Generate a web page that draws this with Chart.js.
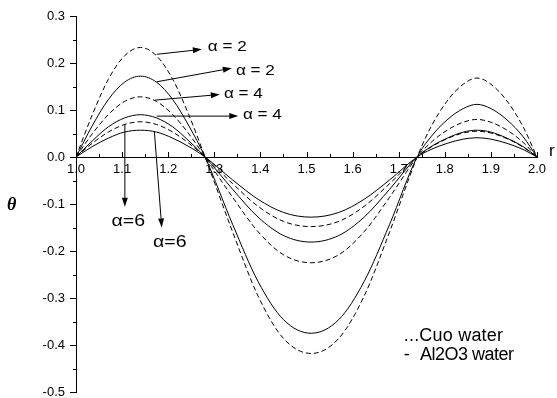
<!DOCTYPE html>
<html>
<head>
<meta charset="utf-8">
<script src="https://cdn.jsdelivr.net/npm/chart.js@4.4.0/dist/chart.umd.min.js"></script>
<style>
  html, body { margin: 0; padding: 0; background: #fff; }
</style>
</head>
<body>
<canvas id="theta-chart" width="557" height="398"></canvas>
<script>
// radial position r (three lobes: 1.0-1.28, 1.28-1.74, 1.74-2.0)
const rValues = [1.00, 1.035, 1.07, 1.105, 1.14, 1.175, 1.21, 1.245, 1.28,
  1.34, 1.395, 1.45, 1.51, 1.57, 1.625, 1.68, 1.74,
  1.77, 1.805, 1.84, 1.87, 1.90, 1.935, 1.97, 2.00];

// CuO-water (dashed)
const cuoAlpha2 = [0, 0.089, 0.165, 0.215, 0.233, 0.215, 0.165, 0.089, 0,
  -0.160, -0.296, -0.386, -0.418, -0.386, -0.296, -0.160, 0,
  0.064, 0.119, 0.155, 0.168, 0.155, 0.119, 0.064, 0];
const cuoAlpha4 = [0, 0.049, 0.090, 0.118, 0.128, 0.118, 0.090, 0.049, 0,
  -0.086, -0.159, -0.208, -0.225, -0.208, -0.159, -0.086, 0,
  0.031, 0.057, 0.074, 0.080, 0.074, 0.057, 0.031, 0];
const cuoAlpha6 = [0, 0.029, 0.053, 0.069, 0.075, 0.069, 0.053, 0.029, 0,
  -0.057, -0.105, -0.137, -0.148, -0.137, -0.105, -0.057, 0,
  0.021, 0.039, 0.051, 0.055, 0.051, 0.039, 0.021, 0];

// Al2O3-water (solid)
const alAlpha2 = [0, 0.066, 0.122, 0.159, 0.172, 0.159, 0.122, 0.066, 0,
  -0.144, -0.265, -0.346, -0.375, -0.346, -0.265, -0.144, 0,
  0.043, 0.079, 0.103, 0.112, 0.103, 0.079, 0.043, 0];
const alAlpha4 = [0, 0.034, 0.064, 0.083, 0.090, 0.083, 0.064, 0.034, 0,
  -0.069, -0.128, -0.167, -0.181, -0.167, -0.128, -0.069, 0,
  0.022, 0.040, 0.053, 0.057, 0.053, 0.040, 0.022, 0];
const alAlpha6 = [0, 0.022, 0.040, 0.053, 0.057, 0.053, 0.040, 0.022, 0,
  -0.049, -0.090, -0.118, -0.128, -0.118, -0.090, -0.049, 0,
  0.016, 0.029, 0.038, 0.041, 0.038, 0.029, 0.016, 0];

const xTicks = [1.0, 1.1, 1.2, 1.3, 1.4, 1.5, 1.6, 1.7, 1.8, 1.9, 2.0];
const yTicks = [-0.5, -0.4, -0.3, -0.2, -0.1, 0.0, 0.1, 0.2, 0.3];

const seriesList = [
  { label: 'CuO α=2', values: cuoAlpha2, dashed: true },
  { label: 'Al2O3 α=2', values: alAlpha2, dashed: false },
  { label: 'CuO α=4', values: cuoAlpha4, dashed: true },
  { label: 'Al2O3 α=4', values: alAlpha4, dashed: false },
  { label: 'CuO α=6', values: cuoAlpha6, dashed: true },
  { label: 'Al2O3 α=6', values: alAlpha6, dashed: false }
];

// arrows pointing from a curve to its label (data coordinates)
const arrowNotes = [
  { from: [1.175, 0.2185], to: [1.273, 0.229], text: 'α = 2', at: [1.286, 0.234], size: 14 },
  { from: [1.175, 0.160], to: [1.338, 0.189], text: 'α = 2', at: [1.347, 0.183], size: 14 },
  { from: [1.171, 0.121], to: [1.312, 0.133], text: 'α = 4', at: [1.321, 0.134], size: 14 },
  { from: [1.175, 0.087], to: [1.352, 0.087], text: 'α = 4', at: [1.362, 0.089], size: 14 },
  { from: [1.106, 0.070], to: [1.106, -0.106], text: 'α=6', at: [1.077, -0.138], size: 16 },
  { from: [1.170, 0.054], to: [1.186, -0.150], text: 'α=6', at: [1.167, -0.182], size: 16 }
];

const FONT = '"Liberation Sans", Arial, sans-serif';

function drawText(ctx, text, x, y, size, stretch, spacing) {
  ctx.save();
  ctx.font = size + 'px ' + FONT;
  ctx.letterSpacing = (spacing || 0) + 'px';
  ctx.textBaseline = 'middle';
  ctx.textAlign = 'left';
  ctx.fillStyle = '#000';
  ctx.translate(x, y);
  ctx.scale(stretch, 1);
  ctx.fillText(text, 0, 0);
  ctx.restore();
}

function drawArrow(ctx, x1, y1, x2, y2) {
  const ang = Math.atan2(y2 - y1, x2 - x1);
  const len = 9, half = 3;
  ctx.beginPath();
  ctx.moveTo(x1, y1);
  ctx.lineTo(x2 - Math.cos(ang) * len, y2 - Math.sin(ang) * len);
  ctx.stroke();
  ctx.beginPath();
  ctx.moveTo(x2, y2);
  ctx.lineTo(x2 - Math.cos(ang) * len - Math.sin(ang) * half, y2 - Math.sin(ang) * len + Math.cos(ang) * half);
  ctx.lineTo(x2 - Math.cos(ang) * len + Math.sin(ang) * half, y2 - Math.sin(ang) * len - Math.cos(ang) * half);
  ctx.closePath();
  ctx.fill();
}

// minor + major tick marks: y ticks point left, x ticks point up
const axisTicks = {
  id: 'axisTicks',
  afterDraw(chart) {
    const { ctx, scales: { x, y } } = chart;
    const x0 = x.getPixelForValue(1.0);
    const y0 = y.getPixelForValue(0);
    ctx.save();
    ctx.strokeStyle = '#000';
    ctx.lineWidth = 1;
    ctx.beginPath();
    for (let i = 0; i <= 16; i++) {
      const py = Math.round(y.getPixelForValue(-0.5 + i * 0.05)) + 0.5;
      const len = i % 2 === 0 ? 6 : 3;
      ctx.moveTo(x0 - len, py);
      ctx.lineTo(x0, py);
    }
    for (let i = 1; i <= 20; i++) {
      const px = Math.round(x.getPixelForValue(1 + i * 0.05)) + 0.5;
      const len = i % 2 === 0 ? 5 : 3;
      ctx.moveTo(px, y0);
      ctx.lineTo(px, y0 - len);
    }
    ctx.stroke();
    ctx.restore();
  }
};

const annotations = {
  id: 'annotations',
  afterDraw(chart) {
    const { ctx, chartArea, scales: { x, y } } = chart;
    ctx.save();
    ctx.strokeStyle = '#000';
    ctx.fillStyle = '#000';
    ctx.lineWidth = 1;
    arrowNotes.forEach(n => {
      drawArrow(ctx, x.getPixelForValue(n.from[0]), y.getPixelForValue(n.from[1]),
        x.getPixelForValue(n.to[0]), y.getPixelForValue(n.to[1]));
      drawText(ctx, n.text, x.getPixelForValue(n.at[0]), y.getPixelForValue(n.at[1]), n.size, 1.22, 0);
    });

    // key for the two fluids
    drawText(ctx, '...Cuo water', x.getPixelForValue(1.711), y.getPixelForValue(-0.381), 18, 1, 0.2);
    drawText(ctx, '-', x.getPixelForValue(1.711), y.getPixelForValue(-0.421), 18, 1, 0);
    drawText(ctx, 'Al2O3 water', x.getPixelForValue(1.746), y.getPixelForValue(-0.421), 18, 1, -0.5);

    // axis titles
    drawText(ctx, 'r', chartArea.right + 12, y.getPixelForValue(0) - 6, 17, 1, 0);
    ctx.font = 'bold italic 18px "Liberation Serif", serif';
    ctx.textBaseline = 'middle';
    ctx.fillText('θ', 7, 205);
    ctx.restore();
  }
};

const ctx = document.getElementById('theta-chart').getContext('2d');
new Chart(ctx, {
  type: 'line',
  data: {
    datasets: seriesList.map(s => ({
      label: s.label,
      data: rValues.map((r, i) => ({ x: r, y: s.values[i] })),
      borderColor: '#000',
      borderWidth: 1,
      borderDash: s.dashed ? [5, 3] : [],
      pointRadius: 0,
      fill: false,
      cubicInterpolationMode: 'monotone'
    }))
  },
  options: {
    responsive: false,
    animation: false,
    layout: { padding: { left: 0, top: 16, right: 20, bottom: 6 } },
    plugins: { legend: { display: false }, tooltip: { enabled: false } },
    scales: {
      x: {
        type: 'linear',
        position: { y: 0 },
        min: 1.0,
        max: 2.0,
        afterFit: s => { s.height = 0; },
        afterBuildTicks: s => { s.ticks = xTicks.map(v => ({ value: v })); },
        grid: { display: false, drawTicks: false },
        border: { display: true, color: '#000', width: 1 },
        ticks: {
          callback: v => v.toFixed(1),
          color: '#000',
          padding: 5,
          maxRotation: 0,
          autoSkip: false,
          font: { family: FONT, size: 13 }
        }
      },
      y: {
        type: 'linear',
        min: -0.5,
        max: 0.3,
        afterFit: s => { s.width = 76; s.paddingTop = 0; s.paddingBottom = 0; },
        afterBuildTicks: s => { s.ticks = yTicks.map(v => ({ value: v })); },
        grid: { display: false, drawTicks: false },
        border: { display: true, color: '#000', width: 1 },
        ticks: {
          callback: v => v.toFixed(1),
          color: '#000',
          padding: 11,
          font: { family: FONT, size: 13 }
        }
      }
    }
  },
  plugins: [axisTicks, annotations]
});
</script>
</body>
</html>
